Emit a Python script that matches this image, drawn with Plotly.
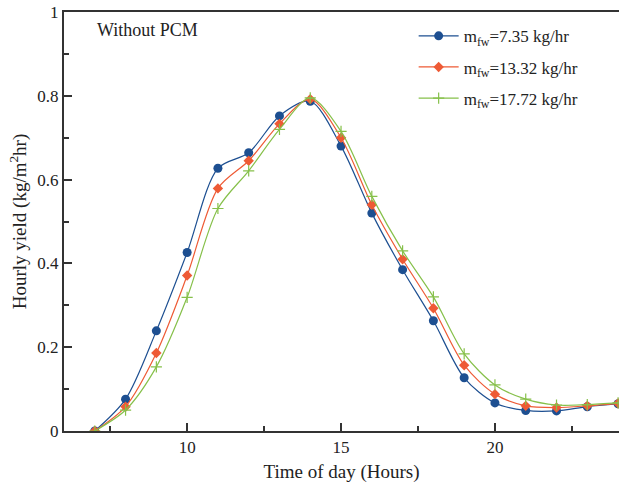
import plotly.graph_objects as go

hours = [7, 8, 9, 10, 11, 12, 13, 14, 15, 16, 17, 18, 19, 20, 21, 22, 23, 24]
yield_735 = [0.0, 0.076, 0.239, 0.426, 0.627, 0.664, 0.752, 0.787, 0.68, 0.52, 0.385, 0.263, 0.127, 0.067, 0.049, 0.048, 0.058, 0.065]
yield_1332 = [0.0, 0.058, 0.186, 0.371, 0.579, 0.645, 0.733, 0.792, 0.70, 0.54, 0.41, 0.293, 0.157, 0.088, 0.06, 0.056, 0.06, 0.066]
yield_1772 = [0.0, 0.05, 0.153, 0.319, 0.531, 0.621, 0.72, 0.795, 0.715, 0.56, 0.43, 0.32, 0.184, 0.11, 0.076, 0.062, 0.063, 0.067]
names = ["m<sub>fw</sub>=7.35 kg/hr", "m<sub>fw</sub>=13.32 kg/hr", "m<sub>fw</sub>=17.72 kg/hr"]

FONT = "Liberation Serif"
fig = go.Figure()
fig.add_trace(go.Scatter(x=hours, y=yield_735, name=names[0], legendgroup="a", mode="lines+markers",
                         line=dict(color="#1d4f91", width=1.2, shape="spline", smoothing=0.85),
                         marker=dict(symbol="circle", size=9, color="#1d4f91")))
fig.add_trace(go.Scatter(x=hours, y=yield_1332, name=names[1], legendgroup="b", mode="lines+markers",
                         line=dict(color="#ee5a35", width=1.2, shape="spline", smoothing=0.85),
                         marker=dict(symbol="diamond", size=8, color="#ee5a35")))
fig.add_trace(go.Scatter(x=hours, y=yield_1772, name=names[2], legendgroup="c", mode="lines+markers",
                         line=dict(color="#86c04a", width=1.2, shape="spline", smoothing=0.85),
                         marker=dict(symbol="cross-thin", size=8, color="#86c04a",
                                     line=dict(color="#86c04a", width=1.2))))

fig.add_annotation(x=0.055, y=0.985, xref="paper", yref="paper", text="Without PCM",
                   showarrow=False, xanchor="left", yanchor="top",
                   font=dict(family=FONT, size=18, color="#222"))

fig.update_layout(
    width=619, height=490,
    margin=dict(l=64, r=0, t=12, b=59),
    plot_bgcolor="white", paper_bgcolor="white",
    font=dict(family=FONT, size=17, color="#222"),
    showlegend=True,
    legend=dict(x=0.63, y=0.985, xanchor="left", yanchor="top",
                font=dict(family=FONT, size=17, color="#222"),
                bgcolor="rgba(255,255,255,0)", tracegroupgap=6, itemwidth=40),
    xaxis=dict(range=[6, 24.03], tickvals=[10, 15, 20], ticks="inside", ticklen=8,
               tickwidth=1.5, tickcolor="#333", showline=True, linecolor="#333", linewidth=2,
               mirror=True, showgrid=False, zeroline=False,
               minor=dict(tickvals=[7.5, 12.5, 17.5, 22.5], ticks="inside", ticklen=5,
                          tickwidth=1.5, tickcolor="#333"),
               title=dict(text="Time of day (Hours)", font=dict(family=FONT, size=19), standoff=8)),
    yaxis=dict(range=[0, 1], tickvals=[0, 0.2, 0.4, 0.6, 0.8, 1],
               ticktext=["0", "0.2", "0.4", "0.6", "0.8", "1"], ticks="inside", ticklen=8,
               tickwidth=1.5, tickcolor="#333", showline=True, linecolor="#333", linewidth=2,
               showgrid=False, zeroline=False,
               minor=dict(tickvals=[0.1, 0.3, 0.5, 0.7, 0.9], ticks="inside", ticklen=5,
                          tickwidth=1.5, tickcolor="#333"),
               title=dict(text="Hourly yield (kg/m<sup>2</sup>hr)", font=dict(family=FONT, size=19), standoff=6)),
)
fig.write_html("out.html")
